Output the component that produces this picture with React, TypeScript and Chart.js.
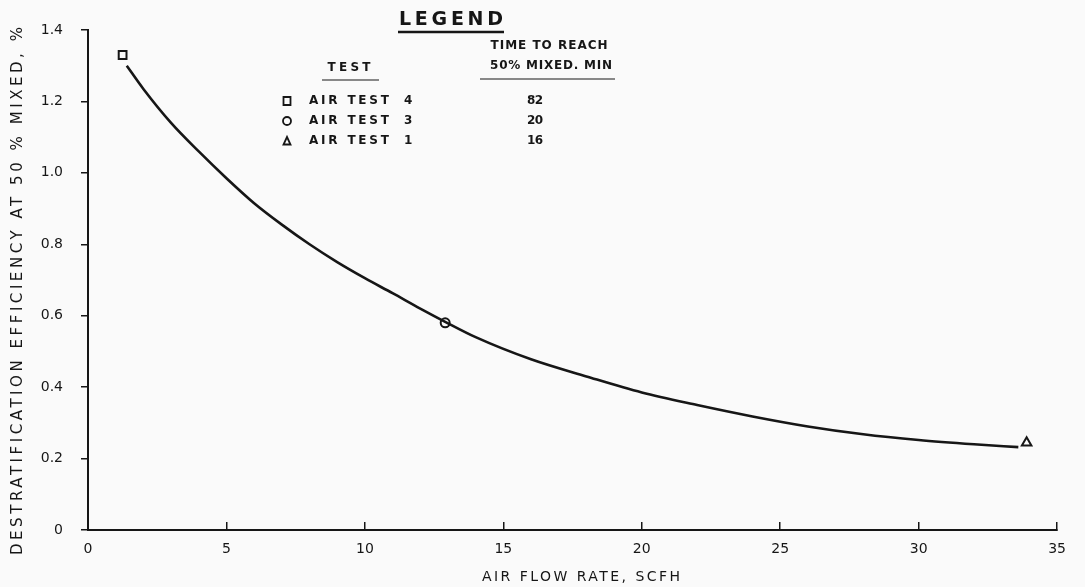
import { useEffect, useRef } from 'react';
import { Chart, registerables } from 'chart.js';

Chart.register(...registerables);

// Axis ticks
const xTickValues = [0, 5, 10, 15, 20, 25, 30, 35];
const yTickLabels = ['0', '0.2', '0.4', '0.6', '0.8', '1.0', '1.2', '1.4'];

// Faired curve through the test results (air flow, SCFH -> efficiency, %)
const curveFlow = [1.4, 2, 3, 4, 5, 6, 7, 8, 9, 10, 11, 12, 12.9, 14, 16, 18, 20, 22, 24, 26, 28, 30, 32, 33.6];
const curveEff = [
  1.3, 1.235, 1.14, 1.06, 0.985, 0.915, 0.855, 0.8, 0.75, 0.705, 0.663, 0.62, 0.583, 0.54, 0.478, 0.43,
  0.385, 0.35, 0.318, 0.29, 0.268, 0.252, 0.24, 0.232,
];

// Individual air tests
const testNames = ['AIR TEST 4', 'AIR TEST 3', 'AIR TEST 1'];
const testFlow = [1.25, 12.9, 33.9];
const testEff = [1.33, 0.58, 0.244];
const testMinutes = ['82', '20', '16'];
const testMarkers = ['rect', 'circle', 'triangle'];

const INK = '#161616';
const FONT = '"DejaVu Sans", sans-serif';

function spacedText(
  ctx: CanvasRenderingContext2D,
  text: string,
  cx: number,
  cy: number,
  width: number,
  font: string
) {
  ctx.save();
  ctx.font = font;
  (ctx as any).letterSpacing = '0px';
  const w0 = ctx.measureText(text).width;
  const sp = text.length > 1 ? (width - w0) / (text.length - 1) : 0;
  (ctx as any).letterSpacing = sp + 'px';
  ctx.textAlign = 'left';
  ctx.textBaseline = 'middle';
  ctx.fillStyle = INK;
  ctx.fillText(text, cx - width / 2, cy);
  ctx.restore();
}

function rule(ctx: CanvasRenderingContext2D, x1: number, x2: number, y: number, w: number) {
  ctx.save();
  ctx.strokeStyle = INK;
  ctx.lineWidth = w;
  ctx.beginPath();
  ctx.moveTo(x1, y);
  ctx.lineTo(x2, y);
  ctx.stroke();
  ctx.restore();
}

function glyph(ctx: CanvasRenderingContext2D, kind: string, x: number, y: number) {
  ctx.save();
  ctx.strokeStyle = INK;
  ctx.lineWidth = 1.8;
  ctx.beginPath();
  if (kind === 'rect') {
    ctx.rect(x - 3.5, y - 4, 7, 8);
  } else if (kind === 'circle') {
    ctx.arc(x, y, 4, 0, Math.PI * 2);
  } else {
    ctx.moveTo(x, y - 4);
    ctx.lineTo(x + 3.5, y + 3.5);
    ctx.lineTo(x - 3.5, y + 3.5);
    ctx.closePath();
  }
  ctx.stroke();
  ctx.restore();
}

const paperPlugin = {
  id: 'paper',
  beforeDraw(chart: Chart) {
    const ctx = chart.ctx;
    ctx.save();
    ctx.fillStyle = '#fafafa';
    ctx.fillRect(0, 0, chart.width, chart.height);
    ctx.restore();
  },
};

const textPlugin = {
  id: 'captions',
  afterDraw(chart: Chart) {
    const ctx = chart.ctx;

    // y axis title
    ctx.save();
    ctx.translate(18, 291);
    ctx.rotate(-Math.PI / 2);
    spacedText(ctx, 'DESTRATIFICATION EFFICIENCY AT 50 % MIXED, %', 0, 0, 528, `15px ${FONT}`);
    ctx.restore();

    // x axis title
    spacedText(ctx, 'AIR FLOW RATE, SCFH', 581, 577, 198, `14px ${FONT}`);

    // legend block
    spacedText(ctx, 'LEGEND', 451, 20, 104, `bold 19px ${FONT}`);
    rule(ctx, 398, 504, 32, 2.5);

    spacedText(ctx, 'TIME TO REACH', 549, 46, 117, `bold 12px ${FONT}`);
    spacedText(ctx, '50% MIXED. MIN', 551, 66, 122, `bold 12px ${FONT}`);
    rule(ctx, 480, 615, 79, 1.2);

    spacedText(ctx, 'TEST', 349, 68, 43, `bold 12px ${FONT}`);
    rule(ctx, 322, 379, 80, 1.2);

    const rowY = [101, 121, 141];
    testNames.forEach((name, i) => {
      glyph(ctx, testMarkers[i], 287, rowY[i]);
      const label = name.replace(/\s\d+$/, '');
      const num = name.slice(label.length).trim();
      spacedText(ctx, label, 349, rowY[i], 80, `bold 12px ${FONT}`);
      spacedText(ctx, num, 408, rowY[i], 8, `bold 12px ${FONT}`);
      spacedText(ctx, testMinutes[i], 535, rowY[i], 16, `bold 12px ${FONT}`);
    });
  },
};

export default function App() {
  const canvasRef = useRef<HTMLCanvasElement | null>(null);

  useEffect(() => {
    const canvas = canvasRef.current;
    if (!canvas) return;

    const curve = curveFlow.map((x, i) => ({ x, y: curveEff[i] }));
    const testSets = testNames.map((name, i) => ({
      label: name,
      data: [{ x: testFlow[i], y: testEff[i] }],
      showLine: false,
      pointStyle: testMarkers[i] as any,
      pointRadius: testMarkers[i] === 'circle' ? 4.5 : 5.5,
      pointBackgroundColor: '#fafafa',
      pointBorderColor: INK,
      pointBorderWidth: 2,
    }));

    const chart = new Chart(canvas, {
      type: 'scatter',
      data: {
        datasets: [
          {
            label: 'curve',
            data: curve,
            showLine: true,
            borderColor: INK,
            borderWidth: 2.6,
            pointRadius: 0,
            cubicInterpolationMode: 'monotone',
            fill: false,
          } as any,
          ...testSets,
        ],
      },
      options: {
        responsive: false,
        animation: false,
        events: [],
        layout: { padding: { top: 30, right: 13, left: 0, bottom: 0 } },
        plugins: {
          legend: { display: false },
          tooltip: { enabled: false },
          title: { display: false },
        },
        scales: {
          x: {
            type: 'linear',
            min: 0,
            max: 35,
            afterFit: (s: any) => {
              s.height = 57;
            },
            afterBuildTicks: (s: any) => {
              s.ticks = xTickValues.map((v) => ({ value: v }));
            },
            ticks: {
              color: INK,
              font: { family: FONT, size: 14 },
              padding: 19,
              maxRotation: 0,
              autoSkip: false,
              callback: (v: any) => String(v),
            },
            grid: {
              drawOnChartArea: false,
              drawTicks: true,
              tickLength: -8,
              color: INK,
              lineWidth: 1.5,
            },
            border: { display: true, color: INK, width: 2 },
          },
          y: {
            type: 'linear',
            min: 0,
            max: 1.4,
            afterFit: (s: any) => {
              s.width = 88;
            },
            ticks: {
              stepSize: 0.2,
              color: INK,
              font: { family: FONT, size: 14 },
              padding: 18,
              autoSkip: false,
              callback: (_v: any, i: number) => yTickLabels[i],
            },
            grid: {
              drawOnChartArea: false,
              drawTicks: true,
              tickLength: 7,
              color: INK,
              lineWidth: 1.5,
            },
            border: { display: true, color: INK, width: 2 },
          },
        },
      },
      plugins: [paperPlugin, textPlugin],
    });

    return () => chart.destroy();
  }, []);

  return (
    <div
      style={{
        position: 'fixed',
        left: 0,
        top: 0,
        width: 1085,
        height: 587,
        background: '#fafafa',
      }}
    >
      <canvas ref={canvasRef} width={1085} height={587} style={{ display: 'block' }} />
    </div>
  );
}
